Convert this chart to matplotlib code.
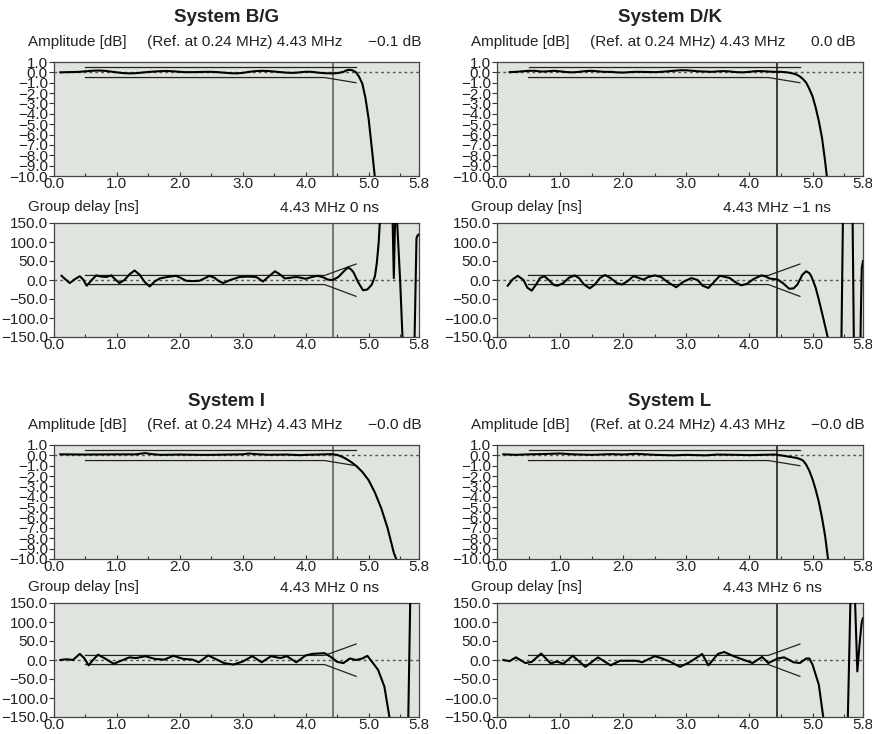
import matplotlib
matplotlib.use("Agg")
import matplotlib.pyplot as plt
import numpy as np

plt.rcParams['font.family'] = ['Liberation Sans', 'DejaVu Sans']

W, H = 872, 734

# ---------------- data ----------------
systems = ["System B/G", "System D/K", "System I", "System L"]
amp_values = ["\u22120.1 dB", "0.0 dB", "\u22120.0 dB", "\u22120.0 dB"]
gd_values = ["0 ns", "\u22121 ns", "0 ns", "6 ns"]

ref_freq = 4.43
x_ticks = [0.0, 1.0, 2.0, 3.0, 4.0, 5.0, 5.8]
x_minor = [0.5, 1.5, 2.5, 3.5, 4.5, 5.5]
amp_ticks = [1.0, 0.0, -1.0, -2.0, -3.0, -4.0, -5.0, -6.0, -7.0, -8.0, -9.0, -10.0]
gd_ticks = [150.0, 100.0, 50.0, 0.0, -50.0, -100.0, -150.0]

# tolerance templates
amp_up_f = [0.5, 4.8]
amp_up_v = [0.5, 0.5]
amp_lo_f = [0.5, 4.3, 4.8]
amp_lo_v = [-0.5, -0.5, -1.0]
gd_up_f = [0.5, 4.3, 4.8]
gd_up_v = [12, 12, 42]
gd_lo_f = [0.5, 4.3, 4.8]
gd_lo_v = [-12, -12, -43]

# amplitude curves
bg_amp_f = [0.1, 0.2, 0.3, 0.4, 0.5, 0.6, 0.7, 0.8, 0.9, 1.0, 1.1, 1.2, 1.3, 1.4, 1.5, 1.6, 1.7, 1.8, 1.9, 2.0,
            2.1, 2.2, 2.3, 2.4, 2.5, 2.6, 2.7, 2.8, 2.9, 3.0, 3.1, 3.2, 3.3, 3.4, 3.5, 3.6, 3.7, 3.8, 3.9, 4.0,
            4.1, 4.2, 4.3, 4.4, 4.5, 4.6, 4.65, 4.7, 4.75, 4.8, 4.85, 4.9, 4.95, 5.0, 5.05, 5.1]
bg_amp_v = [0.0, 0.02, 0.03, 0.05, 0.1, 0.15, 0.18, 0.15, 0.08, 0.0, -0.07, -0.1, -0.08, -0.02, 0.04, 0.08, 0.12, 0.13, 0.1, 0.05,
            0.02, 0.02, 0.03, 0.05, 0.05, 0.02, -0.03, -0.08, -0.1, -0.05, 0.05, 0.12, 0.15, 0.13, 0.08, 0.02, -0.03, -0.05, 0.0, 0.06,
            0.05, -0.03, -0.08, -0.1, -0.08, 0.05, 0.2, 0.25, 0.18, 0.0, -0.45, -1.1, -2.5, -4.5, -7.3, -10.2]

dk_amp_f = [0.2, 0.3, 0.4, 0.5, 0.6, 0.7, 0.8, 0.9, 1.0, 1.1, 1.2, 1.3, 1.4, 1.5, 1.6, 1.7, 1.8, 1.9, 2.0,
            2.1, 2.2, 2.3, 2.4, 2.5, 2.6, 2.7, 2.8, 2.9, 3.0, 3.1, 3.2, 3.3, 3.4, 3.5, 3.6, 3.7, 3.8, 3.9, 4.0,
            4.1, 4.2, 4.3, 4.4, 4.5, 4.6, 4.7, 4.75, 4.8, 4.85, 4.9, 4.95, 5.0, 5.05, 5.1, 5.15, 5.2, 5.23]
dk_amp_v = [0.02, 0.05, 0.1, 0.15, 0.15, 0.08, 0.1, 0.15, 0.1, 0.03, 0.0, 0.05, 0.12, 0.15, 0.1, 0.05, 0.05, 0.0, -0.02,
            0.02, 0.05, 0.05, 0.03, 0.02, 0.05, 0.1, 0.15, 0.2, 0.2, 0.15, 0.1, 0.08, 0.05, 0.1, 0.12, 0.08, 0.02, 0.0, 0.05,
            0.12, 0.12, 0.08, 0.05, 0.05, 0.0, -0.12, -0.22, -0.4, -0.65, -1.0, -1.6, -2.3, -3.4, -4.7, -6.3, -8.6, -10.2]

i_amp_f = [0.1, 0.5, 1.0, 1.3, 1.45, 1.55, 1.7, 2.0, 2.3, 2.5, 2.8, 3.0, 3.1, 3.2, 3.4, 3.7, 3.9, 4.0, 4.2, 4.4,
           4.5, 4.6, 4.7, 4.8, 4.9, 5.0, 5.1, 5.2, 5.3, 5.4, 5.45]
i_amp_v = [0.1, 0.08, 0.1, 0.1, 0.22, 0.12, 0.05, 0.08, 0.05, 0.05, 0.08, 0.1, 0.18, 0.12, 0.06, 0.08, 0.02, 0.05, 0.08, 0.12,
           0.05, -0.2, -0.55, -1.0, -1.6, -2.4, -3.6, -5.1, -7.0, -9.4, -10.2]

l_amp_f = [0.1, 0.3, 0.5, 0.7, 1.0, 1.2, 1.5, 1.8, 2.0, 2.2, 2.5, 2.8, 3.0, 3.3, 3.5, 3.8, 4.0, 4.2, 4.4,
           4.5, 4.6, 4.7, 4.75, 4.8, 4.85, 4.9, 4.95, 5.0, 5.05, 5.1, 5.15, 5.2, 5.25]
l_amp_v = [0.1, 0.05, 0.1, 0.12, 0.18, 0.1, 0.05, 0.12, 0.08, 0.15, 0.05, 0.0, 0.05, 0.0, 0.08, 0.05, 0.02, 0.05, 0.08,
           0.0, -0.1, -0.2, -0.25, -0.35, -0.5, -0.9, -1.5, -2.3, -3.3, -4.5, -6.0, -7.8, -10.2]

# group delay curves
bg_gd_f = [0.12, 0.18, 0.25, 0.33, 0.41, 0.46, 0.52, 0.6, 0.67, 0.75, 0.83, 0.91, 0.97, 1.04, 1.12, 1.2, 1.28, 1.36,
           1.44, 1.52, 1.6, 1.68, 1.8, 1.94, 2.02, 2.1, 2.2, 2.31, 2.4, 2.47, 2.55, 2.62, 2.69, 2.8, 2.95, 3.08,
           3.21, 3.27, 3.32, 3.42, 3.51, 3.58, 3.67, 3.76, 3.85, 3.92, 4.0, 4.1, 4.19, 4.28, 4.35, 4.43, 4.52, 4.6,
           4.67, 4.72, 4.76, 4.83, 4.91, 4.98, 5.05, 5.1, 5.13, 5.16, 5.18, 5.22, 5.35, 5.38, 5.4, 5.42, 5.44, 5.45,
           5.5, 5.54, 5.58, 5.7, 5.73, 5.76, 5.78, 5.8]
bg_gd_v = [11, 2, -8, 2, 10, 2, -15, 0, 12, 9, 8, 12, 2, -8, 0, 15, 25, 14,
           -5, -17, -4, 4, 8, 11, 5, -2, -3, -2, 5, 11, 6, -3, -8, 0, 8, 9,
           8, 2, -4, 10, 23, 16, 4, 6, 8, 6, 3, 8, 11, 7, 1, 0, 8, 22,
           33, 28, 20, -5, -27, -25, -12, 10, 45, 100, 160, 400, 400, 160, 5, 160, 400, 160,
           0, -160, -400, -400, -150, 110, 118, 120]

dk_gd_f = [0.17, 0.25, 0.33, 0.42, 0.48, 0.55, 0.62, 0.68, 0.75, 0.82, 0.9, 0.96, 1.05, 1.14, 1.23, 1.3, 1.38,
           1.47, 1.55, 1.63, 1.71, 1.8, 1.9, 1.98, 2.07, 2.16, 2.24, 2.32, 2.4, 2.5, 2.6, 2.7, 2.84, 2.95, 3.08,
           3.18, 3.26, 3.35, 3.44, 3.53, 3.62, 3.69, 3.78, 3.87, 3.96, 4.07, 4.19, 4.26, 4.32, 4.45, 4.53, 4.63,
           4.7, 4.76, 4.84, 4.9, 4.95, 4.98, 5.05, 5.1, 5.17, 5.24, 5.27, 5.3, 5.44, 5.47, 5.5, 5.62, 5.645, 5.67,
           5.74, 5.765, 5.78, 5.8]
dk_gd_v = [-15, 2, 11, 0, -20, -28, -12, 5, 10, 0, -13, -15, -8, 6, 12, 5, -12,
           -22, -12, 5, 13, 5, -8, -12, -3, 10, 6, 1, 8, 12, 8, -5, -19, -5, 5,
           0, -15, -21, -5, 11, 8, 5, -6, -14, -10, 3, 12, 9, 4, 1, -8, -23,
           -22, -12, 14, 23, 18, 10, -20, -52, -100, -150, -170, -400, -400, 0, 400, 400, 0, -400,
           -400, -100, 30, 50]

i_gd_f = [0.1, 0.2, 0.3, 0.41, 0.48, 0.55, 0.62, 0.7, 0.8, 0.95, 1.05, 1.2, 1.3, 1.45, 1.6, 1.75, 1.9, 2.05,
          2.2, 2.3, 2.45, 2.6, 2.7, 2.85, 3.0, 3.15, 3.3, 3.45, 3.6, 3.7, 3.85, 4.0, 4.1, 4.3, 4.4, 4.5, 4.6,
          4.7, 4.8, 4.9, 4.98, 5.05, 5.15, 5.25, 5.33, 5.36, 5.4, 5.6, 5.63, 5.66, 5.7, 5.8]
i_gd_v = [0, 2, 0, 16, 5, -14, 0, 14, 5, -10, -3, 7, 5, 10, 3, 1, 11, 3,
          1, -6, 12, 0, -8, -12, -4, 10, -6, 10, 5, 10, -6, 12, 16, 18, 8, -5, -8,
          4, 0, 4, 11, -4, -26, -70, -150, -200, -400, -400, -150, 150, 400, 400]

l_gd_f = [0.1, 0.2, 0.3, 0.45, 0.55, 0.7, 0.85, 0.95, 1.05, 1.2, 1.4, 1.6, 1.8, 1.95, 2.2, 2.3, 2.5, 2.6,
          2.75, 2.9, 3.05, 3.2, 3.25, 3.35, 3.5, 3.6, 3.75, 3.9, 4.05, 4.2, 4.3, 4.45, 4.55, 4.7, 4.8, 4.9,
          4.95, 5.0, 5.1, 5.17, 5.2, 5.5, 5.56, 5.6, 5.62, 5.65, 5.675, 5.71, 5.75, 5.78, 5.8]
l_gd_v = [0, -3, 7, -8, -5, 17, -9, -4, -10, 11, -18, 7, -14, -2, -2, -6, 10, 5,
          -5, -18, -6, 10, 16, -14, 16, 21, 10, 1, -8, 8, -8, 4, 7, -6, -8, 4,
          4, -12, -65, -150, -400, -400, -150, 150, 400, 400, 150, -30, 50, 100, 110]

amp_f = [bg_amp_f, dk_amp_f, i_amp_f, l_amp_f]
amp_v = [bg_amp_v, dk_amp_v, i_amp_v, l_amp_v]
gd_f = [bg_gd_f, dk_gd_f, i_gd_f, l_gd_f]
gd_v = [bg_gd_v, dk_gd_v, i_gd_v, l_gd_v]

# ---------------- layout ----------------
BG = '#e0e4de'
TXT = '#222222'
col_left = [54, 497]
col_width = [365, 366]
amp_top = [62, 445]
gd_top = [223, 603]
ax_h = 114
FS = 11.1

fig = plt.figure(figsize=(W / 100, H / 100), dpi=100)


def px_axes(left, top, width, height):
    return fig.add_axes([left / W, 1 - (top + height) / H, width / W, height / H])


def ftext(x, y, s, **kw):
    fig.text(x / W, 1 - y / H, s, va='center', color=TXT, **kw)


def style(ax, ymin, ymax, yticks):
    ax.set_facecolor(BG)
    ax.set_xlim(0, 5.8)
    ax.set_ylim(ymin, ymax)
    ax.set_xticks(x_ticks)
    ax.set_xticklabels([f"{t:.1f}" for t in x_ticks])
    ax.set_xticks(x_minor, minor=True)
    ax.set_yticks(yticks)
    ax.set_yticklabels([f"{t:.1f}".replace('-', '\u2212') for t in yticks])
    ax.tick_params(axis='y', which='major', labelsize=11, length=3.5, width=0.8,
                   color='#333333', pad=1.0, direction='out', labelcolor=TXT)
    ax.tick_params(axis='x', which='major', labelsize=11, length=3, width=0.8,
                   color='#333333', pad=1.0, direction='in', labelcolor=TXT)
    ax.tick_params(axis='x', which='minor', length=2.5, width=0.8, color='#333333', direction='in')
    for s in ax.spines.values():
        s.set_color('#444444')
        s.set_linewidth(0.9)
    ax.axhline(0, color='#555555', lw=1.0, ls=(0, (2, 2.2)), zorder=1)


for i in range(4):
    r, c = divmod(i, 2)
    left = col_left[c]
    w = col_width[c]
    vcol = '#555555' if c == 0 else '#111111'

    # amplitude
    ax = px_axes(left, amp_top[r], w, ax_h)
    style(ax, -10, 1, amp_ticks)
    ax.axvline(ref_freq, color=vcol, lw=1.1, zorder=2)
    ax.plot(amp_up_f, amp_up_v, color='#222222', lw=0.9, zorder=3)
    ax.plot(amp_lo_f, amp_lo_v, color='#222222', lw=0.9, zorder=3)
    ax.plot(amp_f[i], amp_v[i], color='black', lw=1.5, zorder=4, solid_joinstyle='round')

    # group delay
    ax2 = px_axes(left, gd_top[r], w, ax_h)
    style(ax2, -150, 150, gd_ticks)
    ax2.axvline(ref_freq, color=vcol, lw=1.1, zorder=2)
    ax2.plot(gd_up_f, gd_up_v, color='#222222', lw=0.9, zorder=3)
    ax2.plot(gd_lo_f, gd_lo_v, color='#222222', lw=0.9, zorder=3)
    ax2.plot(gd_f[i], gd_v[i], color='black', lw=1.5, zorder=4, solid_joinstyle='round')

    # texts
    ftext(left + w / 2 - 10, amp_top[r] - 44, systems[i], ha='center', fontsize=13.5, fontweight='bold')
    ty = amp_top[r] - 20
    ftext(left - 26, ty, "Amplitude [dB]", ha='left', fontsize=10.9)
    ftext(left + 93, ty, "(Ref. at 0.24 MHz) 4.43 MHz", ha='left', fontsize=FS)
    ftext(left + 314, ty, amp_values[i], ha='left', fontsize=FS)
    gy = gd_top[r] - 15.5
    ftext(left - 26, gy, "Group delay [ns]", ha='left', fontsize=10.9)
    ftext(left + 226, gy, "4.43 MHz " + gd_values[i], ha='left', fontsize=FS)

fig.savefig("out.png", dpi=100, facecolor='white')
